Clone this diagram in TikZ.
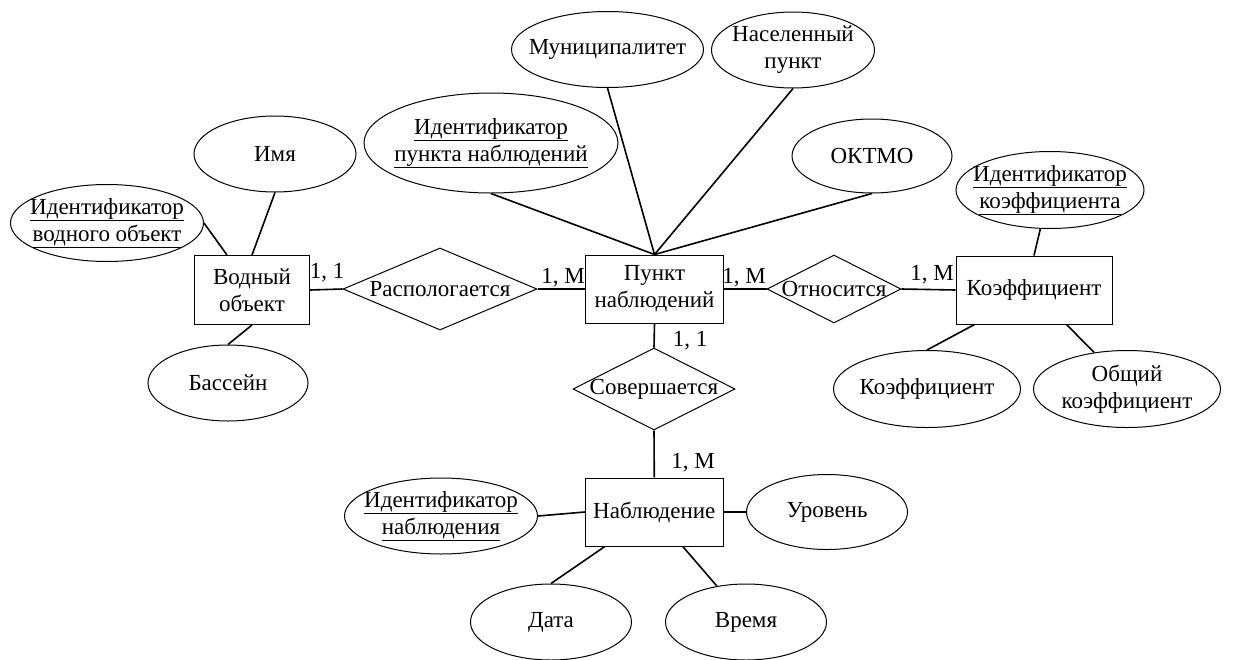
\documentclass[tikz,border=0pt]{standalone}
\usepackage{fontspec}
\setmainfont{Liberation Serif}
\usetikzlibrary{shapes.geometric}
\begin{document}
\begin{tikzpicture}[x=1pt,y=-1pt,
  every node/.style={font=\fontsize{23}{27}\selectfont},
  ent/.style={draw, line width=1pt, rectangle, inner sep=0pt, align=center},
  attr/.style={draw, line width=1pt, ellipse, inner xsep=-30pt, inner ysep=-10pt, align=center},
  rel/.style={draw, line width=1pt, diamond, inner sep=0pt},
  link/.style={line width=1.6pt},
  card/.style={anchor=base, inner sep=0pt}]
\useasboundingbox (0,0) rectangle (1240,659);

% entities
\node[ent, minimum width=115, minimum height=69] (vod) at (252,290) {Водный\\объект};
\node[ent, minimum width=138, minimum height=68] (pun) at (654.5,289) {Пункт\\наблюдений};
\node[ent, minimum width=156, minimum height=68] (koe) at (1034,290) {Коэффициент};
\node[ent, minimum width=138, minimum height=68] (nab) at (654.3,512) {Наблюдение};

% relationships
\node[rel, minimum width=194, minimum height=82, label={center:Распологается}] (ras) at (440,289) {};
\node[rel, minimum width=134, minimum height=68, label={center:Относится}] (otn) at (834,289) {};
\node[rel, minimum width=162, minimum height=82, label={center:Совершается}] (sov) at (654,389) {};

% attributes of the water body
\node[attr, minimum width=193, minimum height=77] (idv) at (107,223) {\underline{Идентификатор}\\\underline{водного объект}};
\node[attr, minimum width=162, minimum height=76] (imy) at (275,154) {Имя};
\node[attr, minimum width=160, minimum height=76] (bas) at (228,383) {Бассейн};

% attributes of the observation point
\node[attr, minimum width=254, minimum height=100] (idp) at (491,143) {\underline{Идентификатор}\\\underline{пункта наблюдений}};
\node[attr, minimum width=192, minimum height=76] (mun) at (607.5,49.5) {Муниципалитет};
\node[attr, minimum width=163, minimum height=76] (nas) at (793,50) {Населенный\\пункт};
\node[attr, minimum width=160, minimum height=74] (okt) at (872,156) {ОКТМО};

% attributes of the coefficient
\node[attr, minimum width=188, minimum height=77] (idk) at (1050,190) {\underline{Идентификатор}\\\underline{коэффициента}};
\node[attr, minimum width=187, minimum height=77] (kat) at (927,389) {Коэффициент};
\node[attr, minimum width=187, minimum height=77] (obs) at (1127,389) {Общий\\коэффициент};

% attributes of the observation
\node[attr, minimum width=193, minimum height=76] (idn) at (441,516) {\underline{Идентификатор}\\\underline{наблюдения}};
\node[attr, minimum width=161, minimum height=75] (urv) at (827,512) {Уровень};
\node[attr, minimum width=161, minimum height=76] (dat) at (551,622) {Дата};
\node[attr, minimum width=161, minimum height=76] (vre) at (746,622) {Время};

% relationship links
\draw[link] (vod.east) -- (ras.west);
\draw[link] (ras.east) -- (pun.west);
\draw[link] (pun.east) -- (otn.west);
\draw[link] (otn.east) -- (koe.west);
\draw[link] (pun.south) -- (sov.north);
\draw[link] (sov.south) -- (nab.north);

% attribute links
\draw[link] (idv.east) -- ([xshift=33]vod.north west);
\draw[link] (imy.south) -- (vod.north);
\draw[link] (bas.north) -- (vod.south);
\draw[link] (idp.south) -- (pun.north);
\draw[link] (mun.south) -- (pun.north);
\draw[link] (nas.south) -- (pun.north);
\draw[link] (okt.south) -- (pun.north);
\draw[link] (idk.256) -- (koe.north);
\draw[link] (kat.north) -- ([xshift=19]koe.south west);
\draw[link] (obs.132) -- ([xshift=-46]koe.south east);
\draw[link] (idn.east) -- (nab.west);
\draw[link] (urv.west) -- (nab.east);
\draw[link] (dat.north) -- ([xshift=20]nab.south west);
\draw[link] (vre.129) -- ([xshift=-41]nab.south east);

% cardinalities
\node[card] (c1) at (327,278) {1, 1};
\node[card] (c2) at (563,283) {1, M};
\node[card] (c3) at (744,283) {1, M};
\node[card] (c4) at (932,280) {1, M};
\node[card] (c5) at (690,346) {1, 1};
\node[card] (c6) at (693,468) {1, M};
\end{tikzpicture}
\end{document}
